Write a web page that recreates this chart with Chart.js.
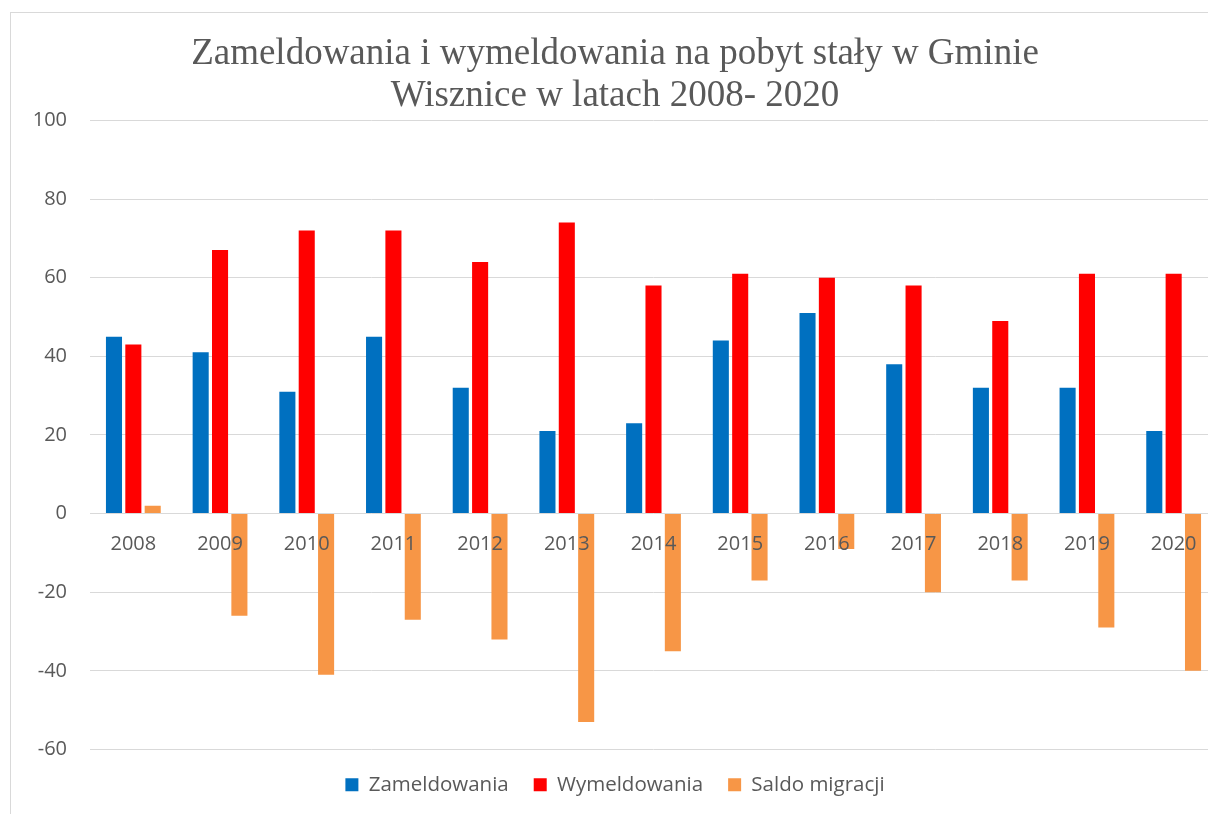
<!DOCTYPE html>
<html>
<head>
<meta charset="utf-8">
<script src="https://cdn.jsdelivr.net/npm/chart.js@4/dist/chart.umd.min.js"></script>
<style>
  html, body { margin: 0; padding: 0; background: #fff; overflow: hidden; width: 1208px; height: 814px; }
  #wrap { position: absolute; left: 0; top: 0; width: 1240px; height: 830px; }
  #frame { position: absolute; left: 10px; top: 12px; width: 1300px; height: 1000px; border: 1px solid #d9d9d9; pointer-events: none; box-sizing: border-box; }
</style>
</head>
<body>
<div id="wrap"><canvas id="c" width="1240" height="830"></canvas></div>
<div id="frame"></div>
<script>
const titleLines = ['Zameldowania i wymeldowania na pobyt stały w Gminie', 'Wisznice w latach 2008- 2020'];
const years = ['2008','2009','2010','2011','2012','2013','2014','2015','2016','2017','2018','2019','2020'];
const zameldowania = [45, 41, 31, 45, 32, 21, 23, 44, 51, 38, 32, 32, 21];
const wymeldowania = [43, 67, 72, 72, 64, 74, 58, 61, 60, 58, 49, 61, 61];
const saldo = [2, -26, -41, -27, -32, -53, -35, -17, -9, -20, -17, -29, -40];
const seriesNames = ['Zameldowania', 'Wymeldowania', 'Saldo migracji'];
const seriesColors = ['#0070C0', '#FF0000', '#F79646'];
const yMin = -60, yMax = 100, yStep = 20;

const textColor = '#595959';
const font = 'Open Sans';

new Chart(document.getElementById('c'), {
  type: 'bar',
  data: {
    labels: years,
    datasets: [zameldowania, wymeldowania, saldo].map((d, i) => ({
      label: seriesNames[i],
      data: d,
      backgroundColor: seriesColors[i],
      borderWidth: 0,
      barPercentage: 0.83,
      categoryPercentage: 0.67
    }))
  },
  options: {
    responsive: false,
    animation: false,
    devicePixelRatio: 1,
    layout: { padding: { left: 13, right: 23, top: 0, bottom: 25 } },
    plugins: {
      title: {
        display: true,
        text: titleLines,
        color: textColor,
        font: { family: 'Liberation Serif', size: 37, weight: 'normal', lineHeight: 1.14 },
        padding: { top: 33, bottom: 3 }
      },
      legend: {
        position: 'bottom',
        labels: {
          color: textColor,
          font: { family: font, size: 20.5 },
          boxWidth: 13,
          boxHeight: 13,
          padding: 25
        }
      },
      tooltip: { enabled: false }
    },
    scales: {
      x: {
        type: 'category',
        position: { y: 0 },
        grid: { display: false, drawTicks: false },
        border: { display: false },
        ticks: { z: 1, color: textColor, font: { family: font, size: 20 }, padding: 19, maxRotation: 0, autoSkip: false }
      },
      y: {
        min: yMin,
        max: yMax,
        grid: { color: '#d9d9d9', lineWidth: 1, drawTicks: false },
        border: { display: false },
        ticks: { stepSize: yStep, color: textColor, font: { family: font, size: 20 }, padding: 23 },
        afterFit: (s) => { s.width = 77; }
      }
    }
  }
});
</script>
</body>
</html>
